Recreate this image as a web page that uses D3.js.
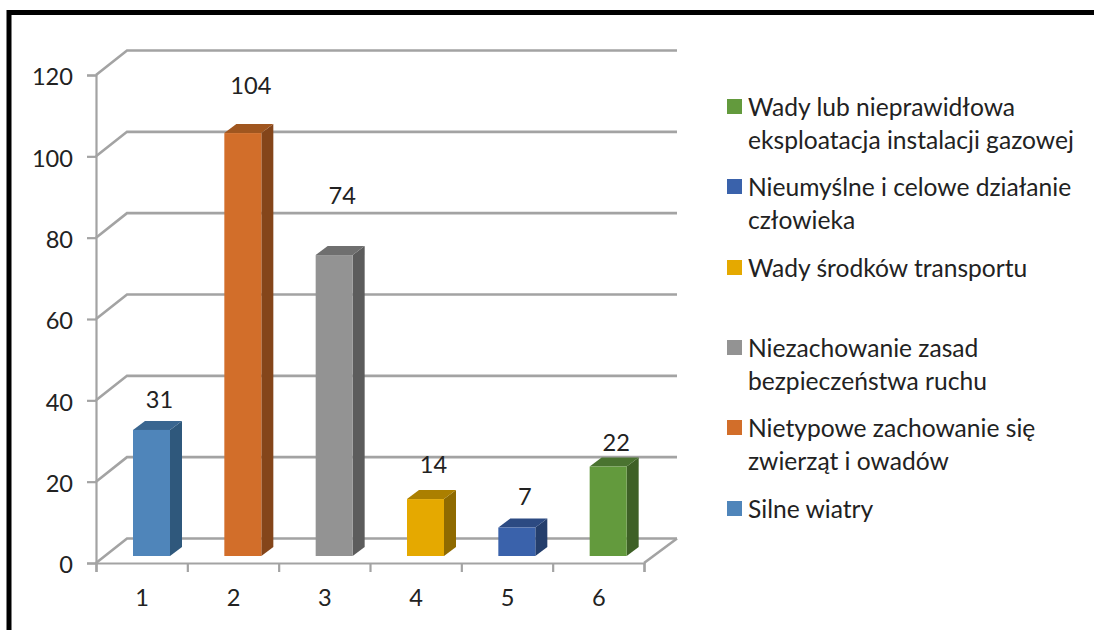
<!DOCTYPE html>
<html><head><meta charset="utf-8">
<script src="https://cdn.jsdelivr.net/npm/d3@7"></script>
<style>html,body{margin:0;padding:0;background:#fff}svg{display:block}text{font-family:Lato,"Open Sans",sans-serif;fill:#222}</style>
</head><body><svg id="c" width="1094" height="630"></svg>
<script>
const categories = ["1","2","3","4","5","6"];
const values = [31,104,74,14,7,22];
const frontColors = ["#4f85ba","#d26e2a","#939393","#e5a900","#3a62ab","#639a3d"];
const sideColors = ["#2f587c","#84451a","#5c5c5c","#8f6a00","#243e6c","#3e6026"];
const topColors = ["#3a6690","#a0561f","#6f6f6f","#ab7f00","#2c4a82","#4a7330"];
const yTicks = [0,20,40,60,80,100,120];
const labelLift = [31,48,60,35,32,25];
const legendItems = [
 {i:5,lines:["Wady lub nieprawidłowa","eksploatacja instalacji gazowej"],y:107},
 {i:4,lines:["Nieumyślne i celowe działanie","człowieka"],y:187},
 {i:3,lines:["Wady środków transportu"],y:268},
 {i:2,lines:["Niezachowanie zasad","bezpieczeństwa ruchu"],y:348},
 {i:1,lines:["Nietypowe zachowanie się","zwierząt i owadów"],y:428},
 {i:0,lines:["Silne wiatry"],y:509}
];
const FS=23.6, LFS=24.6, grid="#a3a3a3", dx=31, dy=-24.5;
const svg=d3.select("#c");
svg.append("path").attr("d","M9,630V12.5H1094").attr("fill","none").attr("stroke","#000").attr("stroke-width",5);
const y=d3.scaleLinear().domain([0,120]).range([563,75]);
const xl=d3.scaleLinear().domain([0,6]).range([96,644]);
const xb=d3.scaleBand().domain(categories).range([96,644]);
// walls
const wall=svg.append("g").attr("fill","none").attr("stroke",grid).attr("stroke-width",2.6);
yTicks.forEach(t=>{
 wall.append("path").attr("d",`M${xl(0)},${y(t)}l${dx},${dy}H${xl(6)+dx+2}`);
});
wall.append("path").attr("d",`M${xl(6)+dx+2},${y(0)+dy}L${xl(6)},${y(0)}`);
// axes
const ya=svg.append("g").attr("transform",`translate(${xl(0)},0)`).call(d3.axisLeft(y).tickValues(yTicks).tickSize(9).tickPadding(14));
ya.selectAll("text").style("font-size",FS+"px").attr("dy","0.42em");
const xa=svg.append("g").attr("transform",`translate(0,${y(0)})`).call(d3.axisBottom(xl).ticks(6).tickSize(9).tickFormat(""));
const xc=svg.append("g").attr("transform",`translate(0,${y(0)})`).call(d3.axisBottom(xb).tickSize(0).tickPadding(26));
xc.select(".domain").remove();
xc.selectAll("text").style("font-size",FS+"px").attr("dx",0.5);
[ya,xa].forEach(g=>{g.selectAll(".domain,line").attr("stroke",grid).attr("stroke-width",2.2);});
// bars
const barW=37, ddx=12, ddy=-9, base=y(0)-7, lift=-7;
const bars=svg.append("g");
values.forEach((v,i)=>{
 const x0=xb(categories[i])+37, x1=x0+barW, yt=y(v)+lift;
 bars.append("path").attr("d",`M${x1},${yt}l${ddx},${ddy}V${base+ddy}l${-ddx},${-ddy}Z`).attr("fill",sideColors[i]);
 bars.append("path").attr("d",`M${x0},${yt}l${ddx},${ddy}H${x1+ddx}l${-ddx},${-ddy}Z`).attr("fill",topColors[i]);
 bars.append("rect").attr("x",x0).attr("y",yt).attr("width",barW).attr("height",base-yt).attr("fill",frontColors[i]);
 svg.append("text").attr("x",x0+barW/2+8).attr("y",yt-labelLift[i]+9).attr("text-anchor","middle").style("font-size",FS+"px").text(v);
});
// legend
const lg=svg.append("g");
legendItems.forEach(d=>{
 lg.append("rect").attr("x",727).attr("y",d.y-8).attr("width",15).attr("height",15).attr("fill",frontColors[d.i]);
 d.lines.forEach((s,k)=>lg.append("text").attr("x",748).attr("y",d.y+8.5+k*33).style("font-size",LFS+"px").text(s));
});
</script></body></html>
